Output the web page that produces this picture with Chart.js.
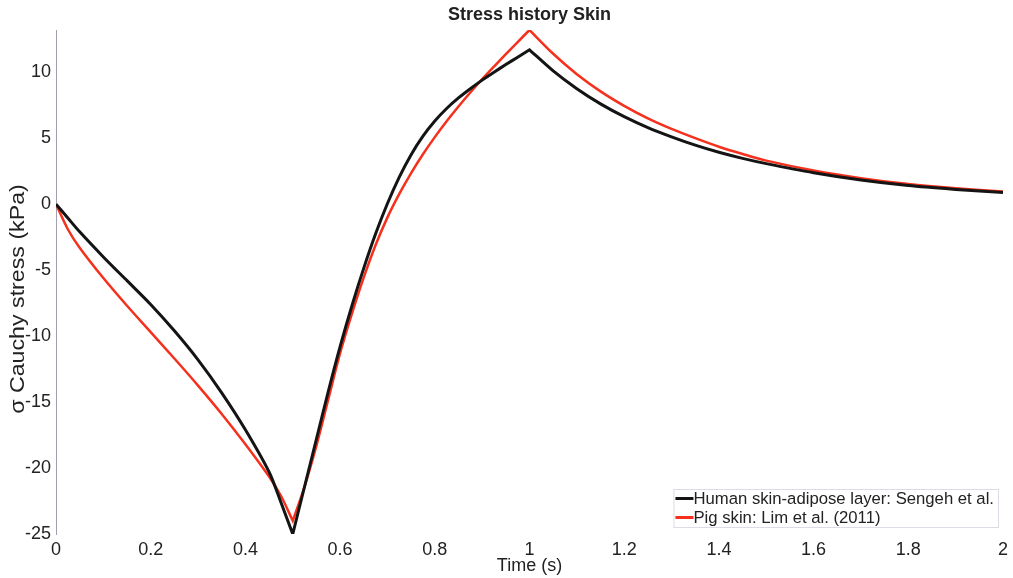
<!DOCTYPE html>
<html>
<head>
<meta charset="utf-8">
<script src="https://cdn.jsdelivr.net/npm/chart.js@4/dist/chart.umd.min.js"></script>
<style>
  html, body { margin: 0; padding: 0; background: #ffffff; }
  #wrap { width: 1013px; height: 578px; }
</style>
</head>
<body>
<div id="wrap"><canvas id="c" width="1013" height="578"></canvas></div>
<script>
// Loading phase, 0 to 0.5 s
const loadTime  = [0, 0.025, 0.05, 0.1, 0.15, 0.2, 0.25, 0.3, 0.35, 0.4, 0.45, 0.475, 0.5];
const loadHuman = [0, -1.05, -2.1, -4.0, -5.8, -7.6, -9.6, -11.8, -14.3, -17.1, -20.3, -22.6, -25.0];
const loadPig   = [0, -1.9, -3.3, -5.6, -7.7, -9.7, -11.7, -13.75, -15.9, -18.2, -20.65, -22.1, -24.0];

// Reversal phase, 0.5 to 1 s
const unloadTime  = [0.5, 0.525, 0.55, 0.575, 0.6, 0.625, 0.65, 0.675, 0.7, 0.725, 0.75,
  0.775, 0.8, 0.825, 0.85, 0.875, 0.9, 0.925, 0.95, 0.975, 1.0];
const unloadHuman = [-25.0, -21.4, -17.8, -14.2, -10.8, -7.7, -4.85, -2.25, 0.05, 2.05, 3.75,
  5.15, 6.3, 7.25, 8.05, 8.75, 9.4, 10.0, 10.58, 11.14, 11.7];
const unloadPig   = [-24.0, -21.4, -18.3, -14.8, -11.3, -8.3, -5.55, -3.1, -1.0, 0.78, 2.36,
  3.78, 5.08, 6.28, 7.4, 8.46, 9.47, 10.43, 11.37, 12.29, 13.2];

// Relaxation phase, 1 to 2 s
const relaxTime  = [1.0, 1.05, 1.1, 1.15, 1.2, 1.25, 1.3, 1.35, 1.4, 1.45, 1.5, 1.6, 1.7, 1.8, 1.9, 2.0];
const relaxHuman = [11.7, 10.1, 8.75, 7.6, 6.63, 5.8, 5.1, 4.47, 3.93, 3.47, 3.07, 2.38, 1.83, 1.41, 1.12, 0.88];
const relaxPig   = [13.2, 11.4, 9.85, 8.55, 7.45, 6.5, 5.7, 5.0, 4.35, 3.8, 3.3, 2.55, 1.97, 1.52, 1.2, 0.95];

const seriesLabels = ['Human skin-adipose layer: Sengeh et al.', 'Pig skin: Lim et al. (2011)'];
const xTickValues = [0, 0.2, 0.4, 0.6, 0.8, 1, 1.2, 1.4, 1.6, 1.8, 2];
const yTickValues = [-25, -20, -15, -10, -5, 0, 5, 10];
const yAxisTitle = 'σ Cauchy stress (kPa)';

const FONT = '"Liberation Sans", Arial, Helvetica, sans-serif';
const TEXT = '#222222';

// Phases share their end points, so each curve keeps a sharp corner
// where the load reverses (0.5 s) and where relaxation starts (1 s).
function phasePoints(phases) {
  const pts = [];
  phases.forEach(([xs, ys]) => xs.forEach((x, i) => pts.push({ x: x, y: ys[i] })));
  return pts;
}

// Rotated y-axis title, stretched slightly along its length
const yTitle = {
  id: 'yTitle',
  afterDraw(chart) {
    const ctx = chart.ctx;
    const area = chart.chartArea;
    ctx.save();
    ctx.translate(18, (area.top + area.bottom) / 2 + 17);
    ctx.rotate(-Math.PI / 2);
    ctx.scale(1.16, 1);
    ctx.font = '20px ' + FONT;
    ctx.fillStyle = TEXT;
    ctx.textAlign = 'center';
    ctx.textBaseline = 'middle';
    ctx.fillText(yAxisTitle, 0, 0);
    ctx.restore();
  }
};

// Boxed legend in the lower-right corner of the plot
const cornerLegend = {
  id: 'cornerLegend',
  afterDatasetsDraw(chart) {
    const ctx = chart.ctx;
    const area = chart.chartArea;
    const boxRight = area.right - 5;
    const boxBottom = area.bottom - 7;
    const rowH = 19;
    const boxH = rowH * chart.data.datasets.length;
    ctx.save();
    ctx.font = '16.7px ' + FONT;
    let maxW = 0;
    chart.data.datasets.forEach(ds => { maxW = Math.max(maxW, ctx.measureText(ds.label).width); });
    const sample = 18;
    const boxW = 2 + sample + maxW + 4;
    const boxLeft = boxRight - boxW;
    const boxTop = boxBottom - boxH;
    ctx.fillStyle = '#ffffff';
    ctx.fillRect(boxLeft, boxTop, boxW, boxH);
    ctx.strokeStyle = '#dcdce4';
    ctx.lineWidth = 1;
    ctx.strokeRect(boxLeft + 0.5, boxTop + 0.5, boxW, boxH);
    chart.data.datasets.forEach((ds, i) => {
      const cy = boxTop + rowH * i + rowH / 2;
      ctx.strokeStyle = ds.borderColor;
      ctx.lineWidth = 3;
      ctx.beginPath();
      ctx.moveTo(boxLeft + 2, cy);
      ctx.lineTo(boxLeft + 2 + sample, cy);
      ctx.stroke();
      ctx.fillStyle = TEXT;
      ctx.textBaseline = 'middle';
      ctx.textAlign = 'left';
      ctx.fillText(ds.label, boxLeft + 2 + sample, cy + 1);
    });
    ctx.restore();
  }
};

new Chart(document.getElementById('c'), {
  type: 'line',
  data: {
    datasets: [
      {
        label: seriesLabels[0],
        data: phasePoints([[loadTime, loadHuman], [unloadTime, unloadHuman], [relaxTime, relaxHuman]]),
        borderColor: '#141414',
        borderWidth: 3,
        pointRadius: 0,
        tension: 0.3,
        fill: false
      },
      {
        label: seriesLabels[1],
        data: phasePoints([[loadTime, loadPig], [unloadTime, unloadPig], [relaxTime, relaxPig]]),
        borderColor: '#f5301c',
        borderWidth: 2.5,
        pointRadius: 0,
        tension: 0.3,
        fill: false
      }
    ]
  },
  options: {
    responsive: false,
    animation: false,
    devicePixelRatio: 1,
    layout: { padding: { left: 1, right: 8, top: 0, bottom: 0 } },
    plugins: {
      legend: { display: false },
      tooltip: { enabled: false },
      title: {
        display: true,
        fullSize: false,
        text: 'Stress history Skin',
        color: TEXT,
        font: { family: FONT, size: 18, weight: 'bold' },
        padding: { top: 4, bottom: 4.4 }
      }
    },
    scales: {
      x: {
        type: 'linear',
        min: 0,
        max: 2,
        afterBuildTicks: s => { s.ticks = xTickValues.map(v => ({ value: v })); },
        afterFit: s => { s.height = 44; },
        ticks: {
          color: TEXT,
          font: { family: FONT, size: 18 },
          padding: 5,
          maxRotation: 0,
          autoSkip: false,
          callback: v => String(v)
        },
        grid: { display: false, drawTicks: false },
        border: { display: false },
        title: {
          display: true,
          text: 'Time (s)',
          color: TEXT,
          font: { family: FONT, size: 18 },
          padding: { top: 0, bottom: 1 }
        }
      },
      y: {
        type: 'linear',
        min: -25,
        max: 13.2,
        afterBuildTicks: s => { s.ticks = yTickValues.map(v => ({ value: v })); },
        afterFit: s => { s.width = 55; },
        ticks: {
          color: TEXT,
          font: { family: FONT, size: 18 },
          padding: 5,
          autoSkip: false,
          callback: v => String(v)
        },
        grid: { display: false, drawTicks: false },
        border: { display: true, color: '#a0a0ac', width: 1 },
        title: { display: false }
      }
    }
  },
  plugins: [cornerLegend, yTitle]
});
</script>
</body>
</html>
